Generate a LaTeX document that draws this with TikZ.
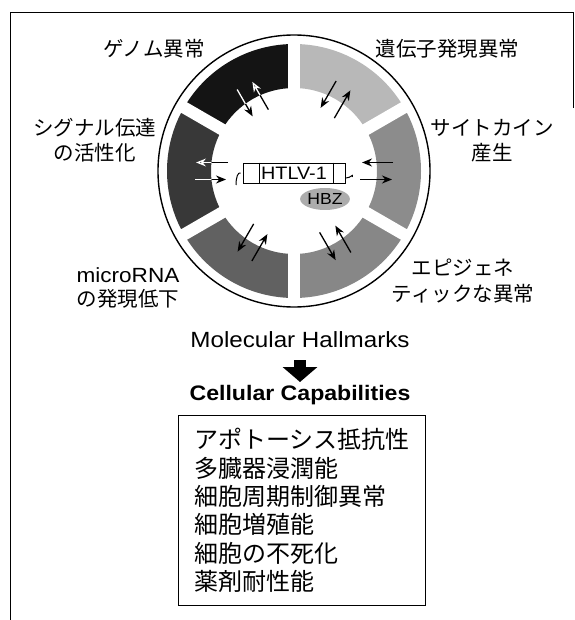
\documentclass[tikz,border=0pt]{standalone}
\usepackage{fontspec}
\setmainfont{Liberation Sans}[FakeStretch=1.1]
\newfontfamily\jp{Noto Sans CJK JP}
\usetikzlibrary{arrows.meta,shapes.geometric,calc}
\definecolor{segA}{gray}{0.08}
\definecolor{segB}{gray}{0.72}
\definecolor{segC}{gray}{0.55}
\definecolor{segD}{gray}{0.53}
\definecolor{segE}{gray}{0.38}
\definecolor{segF}{gray}{0.22}
\tikzset{
  arr/.style={line width=1.3pt,-{Stealth[length=10pt,width=8pt]}},
  arropen/.style={line width=1.3pt,-{Stealth[open,length=10pt,width=8pt]}},
  lbl/.style={align=center,inner sep=0pt,font=\jp\fontsize{20.5}{25.5}\selectfont},
  bigarrow/.style={line width=12pt,-{Triangle[length=15pt,width=34pt]}},
}
\begin{document}
\begin{tikzpicture}[x=1pt,y=-1pt]
\useasboundingbox (0,0) rectangle (574,620);
% frame
\draw[line width=1pt] (10,620) -- (10,13) -- (574,13);
\draw[line width=0.8pt] (573.3,13) -- (573.3,108);

\begin{scope}[shift={(294,171)},y=1pt]
  % ring sectors
  \foreach \a/\c in {120/segA,60/segB,0/segC,-60/segD,-120/segE,180/segF}
    \fill[\c] (\a-30:127pt) arc[start angle=\a-30,end angle=\a+30,radius=127pt]
      -- (\a+30:83pt) arc[start angle=\a+30,end angle=\a-30,radius=83pt] -- cycle;
  \foreach \g in {30,90,150,210,270,330}
    \draw[white,line width=12pt] (\g:78pt) -- (\g:131pt);
  \draw[line width=1.4pt] (0,0) circle[radius=136pt];
  % arrow end points
  \foreach \a/\i in {120/1,60/2,0/3,-60/4,-120/5,180/6} {
    \coordinate (ins\i) at ($(\a:99pt)+(\a+90:8.5pt)$);
    \coordinate (ine\i) at ($(\a:68pt)+(\a+90:8.5pt)$);
    \coordinate (outs\i) at ($(\a:66pt)+(\a-90:8.5pt)$);
    \coordinate (oute\i) at ($(\a:98pt)+(\a-90:8.5pt)$);
  }
  \foreach \i in {2,3,4,5} {
    \draw[arr] (ins\i) -- (ine\i);
    \draw[arr] (outs\i) -- (oute\i);
  }
  \foreach \i in {1,6} {
    \draw[arr] (ins\i) -- (ine\i);
    \draw[arropen] (outs\i) -- (oute\i);
  }
  % white overdraw inside the dark sectors
  \foreach \a/\i in {120/1,180/6} {
    \begin{scope}
      \clip (\a-30:127pt) arc[start angle=\a-30,end angle=\a+30,radius=127pt]
        -- (\a+30:83pt) arc[start angle=\a+30,end angle=\a-30,radius=83pt] -- cycle;
      \draw[arr,white] (ins\i) -- (ine\i);
      \draw[arropen,white] (outs\i) -- (oute\i);
    \end{scope}
  }
\end{scope}

% HTLV-1 provirus
\node[draw,line width=0.9pt,minimum width=102,minimum height=20,inner sep=0pt,
  font=\fontsize{18}{18}\selectfont] (htlv) at (294,173) {HTLV-1};
\draw[line width=0.9pt] ([xshift=17pt]htlv.north west) -- ([xshift=17pt]htlv.south west);
\draw[line width=0.9pt] ([xshift=-12pt]htlv.north east) -- ([xshift=-12pt]htlv.south east);
\coordinate (ltrL) at (236,185);
\coordinate (ltrR) at (346,178);
\draw[line width=1pt] (ltrL) .. controls (236,177) and (238,172) .. ([xshift=-2pt]htlv.west);
\draw[line width=1pt] ([xshift=7pt,yshift=-4pt]htlv.east) .. controls (353,173) and (351,178) .. (ltrR);
\node[ellipse,fill=gray!65,minimum width=47,minimum height=22,inner sep=0pt,
  font=\fontsize{16}{16}\selectfont] (hbz) at (325,199) {HBZ};

% labels
\node[lbl] (genome) at (154,49) {ゲノム異常};
\node[lbl] (expr) at (447.5,48.5) {遺伝子発現異常};
\node[lbl] (signal) at (94.5,140) {シグナル伝達\\の活性化};
\node[lbl] (cyto) at (492,140.5) {サイトカイン\\産生};
\node[lbl] (mirna) at (128,288) {{\rmfamily\fontsize{20.5}{24}\selectfont microRNA}\\[-1.5pt]の発現低下};
\node[lbl] (epi) at (463,281) {エピジェネ\\ティックな異常};

% hallmarks
\node[anchor=base,inner sep=0pt,font=\fontsize{22}{22}\selectfont] (mh) at (300,347) {Molecular Hallmarks};
\node[anchor=base,inner sep=0pt,font=\bfseries\fontsize{21}{21}\selectfont] (cc) at (300,400) {Cellular Capabilities};
\draw[bigarrow] ([yshift=-13pt]mh.base) -- ([yshift=18pt]cc.base);

\node[draw,line width=1pt,anchor=north west,minimum width=247,minimum height=190,
  align=left,inner sep=0pt,font=\jp\fontsize{24}{28.4}\selectfont] (caps) at (178,415)
  {アポトーシス抵抗性\\多臓器浸潤能\\細胞周期制御異常\\細胞増殖能\\細胞の不死化\\薬剤耐性能};
\end{tikzpicture}
\end{document}
